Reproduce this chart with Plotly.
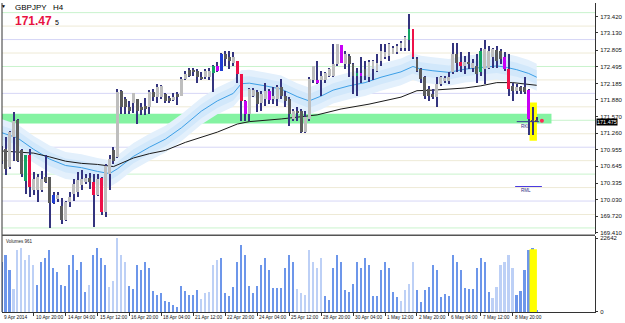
import plotly.graph_objects as go

W, H = 625, 323
ML, MR, MT, MB = 2, 23, 2, 11
PW, PH = W - ML - MR, H - MT - MB


def px(x):
    return (x - ML) / PW


def py(y):
    return (H - MB - y) / PH


# ---------------- data (H4 bars, GBPJPY) ----------------
bar_idx = list(range(135))
opens = [170.94, 170.97, 170.63, 171.19, 171.51, 170.94, 170.38, 170.85, 170.20, 170.20,
         170.20, 170.45, 170.45, 169.96, 170.03, 169.90, 169.64, 169.98, 170.14, 170.17,
         170.29, 170.35, 170.43, 170.35, 170.11, 170.43, 169.80, 170.51, 170.95, 170.82,
         172.05, 171.90, 171.75, 171.82, 171.90, 171.74, 171.71, 171.74, 172.02, 171.93,
         171.93, 171.99, 171.91, 171.88, 171.99, 171.96, 172.27, 172.43, 172.43, 172.41,
         172.30, 172.30, 172.30, 172.38, 172.42, 172.42, 172.73, 172.68, 172.57, 172.61,
         172.36, 171.86, 171.62, 171.96, 172.02, 171.82, 171.90, 172.05, 171.90, 171.90,
         172.12, 171.96, 171.90, 171.53, 171.68, 171.68, 171.28, 171.53, 172.24, 172.25,
         172.24, 172.24, 172.33, 172.33, 172.54, 172.89, 172.54, 172.70, 172.54, 172.34,
         172.37, 172.45, 172.30, 172.45, 172.42, 172.61, 172.67, 172.70, 172.73, 172.76,
         172.85, 172.85, 173.00, 173.19, 172.64, 172.45, 172.30, 172.08, 171.99, 171.93,
         172.17, 172.23, 172.23, 172.39, 172.73, 172.59, 172.51, 172.59, 172.48, 172.51,
         172.39, 172.45, 172.48, 172.67, 172.80, 172.79, 172.68, 172.45, 172.14, 172.04,
         172.12, 172.12, 172.06, 171.51, 171.51]
highs = [171.03, 171.19, 171.31, 171.65, 171.53, 170.97, 170.86, 170.97, 170.54, 170.51,
         170.55, 170.85, 170.45, 170.17, 170.17, 170.06, 170.01, 170.17, 170.41, 170.54,
         170.57, 170.51, 170.52, 170.51, 170.51, 170.45, 170.69, 170.86, 171.01, 172.08,
         172.06, 171.94, 171.86, 172.00, 171.90, 171.83, 171.91, 172.06, 172.08, 172.17,
         172.16, 172.00, 171.96, 172.00, 172.02, 172.30, 172.42, 172.47, 172.47, 172.45,
         172.39, 172.45, 172.47, 172.53, 172.58, 172.75, 172.79, 172.79, 172.76, 172.61,
         172.36, 171.88, 172.10, 172.10, 172.06, 172.05, 172.20, 172.08, 172.11, 172.16,
         172.27, 172.05, 171.94, 171.71, 171.74, 171.71, 171.68, 172.30, 172.51, 172.61,
         172.42, 172.39, 172.47, 172.91, 172.92, 172.90, 172.79, 172.74, 172.57, 172.48,
         172.67, 172.61, 172.62, 172.62, 172.73, 172.91, 172.91, 172.94, 172.88, 172.91,
         172.97, 173.07, 173.48, 173.19, 172.67, 172.48, 172.33, 172.14, 172.08, 172.30,
         172.33, 172.33, 172.39, 172.93, 172.93, 172.76, 172.70, 172.76, 172.64, 172.73,
         172.85, 172.99, 172.88, 172.85, 172.88, 172.82, 172.76, 172.73, 172.20, 172.17,
         172.14, 172.30, 172.08, 171.74, 171.56]
lows = [170.69, 170.48, 170.60, 170.75, 170.72, 170.45, 170.14, 170.07, 170.11, 169.98,
        170.17, 170.34, 169.49, 169.95, 169.98, 169.58, 169.63, 169.89, 170.01, 170.07,
        170.20, 170.32, 170.23, 169.51, 170.10, 169.75, 169.70, 170.20, 170.69, 170.80,
        171.62, 171.61, 171.62, 171.63, 171.44, 171.59, 171.59, 171.61, 171.86, 171.83,
        171.90, 171.82, 171.83, 171.85, 171.79, 171.95, 172.24, 172.30, 172.33, 172.20,
        172.24, 172.27, 172.25, 172.02, 172.40, 172.41, 172.51, 172.45, 172.51, 172.20,
        171.49, 171.49, 171.49, 171.94, 171.65, 171.68, 171.77, 171.80, 171.80, 171.77,
        171.90, 171.74, 171.40, 171.49, 171.49, 171.26, 171.26, 171.49, 172.20, 172.17,
        171.96, 172.20, 172.30, 172.30, 172.51, 172.57, 172.45, 172.30, 171.99, 171.96,
        172.20, 172.24, 172.22, 172.24, 172.39, 172.51, 172.64, 172.60, 172.73, 172.73,
        172.79, 172.79, 172.79, 172.64, 172.39, 172.20, 171.90, 171.86, 171.90, 171.75,
        172.14, 172.19, 172.17, 172.36, 172.39, 172.39, 172.36, 172.45, 172.39, 172.20,
        172.33, 172.17, 172.45, 172.48, 172.48, 172.54, 172.42, 171.96, 171.86, 171.99,
        171.99, 171.99, 171.22, 171.22, 171.46]
closes = [170.75, 170.60, 171.28, 171.49, 170.75, 170.51, 170.86, 170.27, 170.41, 170.45,
          170.41, 170.35, 169.96, 170.12, 170.12, 169.64, 169.98, 170.07, 170.32, 170.40,
          170.41, 170.43, 170.35, 170.11, 170.41, 169.80, 170.66, 170.78, 170.75, 172.02,
          171.74, 171.74, 171.68, 172.00, 171.68, 171.69, 171.77, 172.02, 171.93, 172.11,
          172.14, 171.86, 171.86, 171.93, 171.93, 172.27, 172.36, 172.33, 172.39, 172.30,
          172.27, 172.41, 172.42, 172.51, 172.51, 172.73, 172.64, 172.61, 172.67, 172.36,
          171.86, 171.62, 172.08, 172.06, 171.80, 171.99, 172.05, 171.88, 171.96, 172.12,
          171.96, 171.86, 171.62, 171.68, 171.65, 171.28, 171.56, 172.27, 172.51, 172.20,
          172.33, 172.37, 172.45, 172.54, 172.91, 172.57, 172.73, 172.54, 172.33, 172.37,
          172.34, 172.33, 172.58, 172.60, 172.57, 172.79, 172.76, 172.91, 172.85, 172.88,
          172.94, 173.04, 173.19, 172.67, 172.42, 172.27, 171.96, 171.96, 171.93, 172.17,
          172.30, 172.28, 172.31, 172.73, 172.57, 172.51, 172.59, 172.54, 172.57, 172.36,
          172.79, 172.82, 172.79, 172.82, 172.61, 172.64, 172.45, 172.08, 172.05, 172.12,
          172.04, 172.02, 171.53, 171.46, 171.475]
# body colour class per bar: l=bull grey, d=bear grey, r=red, m=magenta, g=green, b=blue
kinds = list("ddllddgrll" "lddbldllll" "lldrlrlldl" "dddldddldl" "lddldllddd"
             "dllgmbddlr" "rmlldllmll" "dddlddlllm" "lllllmlddg" "mdllllllll"
             "llgrdddddl" "lllldrldld" "glllddmrdl" "ddmdd")

volumes = [15330, 17480, 12880, 7050, 19010, 19620, 15940, 17480, 14410, 8280,
           15330, 16560, 19010, 13490, 12260, 8280, 7970, 14410, 17480, 12880,
           15330, 6130, 8280, 17480, 19620, 16560, 14410, 7660, 9500, 22642,
           17480, 15330, 7970, 7050, 14410, 12880, 15330, 13490, 6440, 5210,
           5830, 3370, 3070, 2150, 1530, 7970, 6440, 5210, 5210, 6750,
           3990, 5830, 6130, 14410, 15940, 16560, 5830, 4910, 7660, 15330,
           20540, 17480, 7970, 5830, 7970, 14410, 16560, 12880, 7360, 7360,
           7360, 13490, 17480, 15330, 7050, 5830, 5210, 19010, 15330, 13490,
           16560, 4910, 3680, 13490, 17480, 15330, 6750, 6130, 8580, 15330,
           13490, 16560, 14410, 4910, 4910, 12880, 15330, 13490, 6130, 4600,
           3370, 6750, 8580, 15330, 6750, 3070, 6750, 7660, 14410, 12880,
           4600, 5520, 4910, 17480, 15330, 12880, 7360, 7050, 7050, 13490,
           16560, 15330, 6130, 4290, 7660, 14410, 15330, 17480, 13490, 5210,
           6440, 12880, 19010, 19620, 610]
vol_shade = list("DDDLLLLLLD" "DDDDDDDDDD" "DDLDDDDLLL" "LLDDDDDDDD"
                 "DDDDDDDDDD" "LLLLLDDDDD" "DDDDDDDDDD" "DDDDLLLLLL"
                 "LDDDDDDDDD" "DDDDDDDDDD" "LLLLDDDDDD" "DDDDDDDDDD"
                 "DDDLLLLLLD" "DDDDD")

# moving averages read at sample bars
ma_x = [0, 4, 8, 12, 16, 20, 24, 27, 29, 33, 37, 41, 45, 50, 54, 58, 60, 62, 66, 70,
        74, 77, 80, 83, 87, 91, 95, 100, 103, 105, 108, 112, 116, 120, 124, 126, 129, 132, 134]
ma_fast = [171.27, 171.17, 170.96, 170.78, 170.66, 170.62, 170.55, 170.51, 170.60, 170.83,
           171.00, 171.15, 171.36, 171.67, 171.86, 172.00, 172.18, 172.19, 172.14, 172.08,
           171.94, 171.86, 171.95, 172.06, 172.14, 172.20, 172.30, 172.40, 172.50, 172.45,
           172.42, 172.39, 172.45, 172.48, 172.51, 172.49, 172.44, 172.37, 172.30]
slow_x = [0, 4, 8, 12, 16, 20, 24, 28, 33, 37, 41, 46, 54, 59, 62, 70, 79, 85, 92, 100,
          104, 108, 116, 120, 124, 128, 134]
ma_slow = [170.93, 170.91, 170.89, 170.82, 170.74, 170.70, 170.68, 170.64, 170.80, 170.88,
           170.94, 171.09, 171.28, 171.43, 171.475, 171.525, 171.60, 171.71, 171.80, 171.93,
           172.05, 172.06, 172.10, 172.14, 172.20, 172.20, 172.15]
BAND_OUT = 0.25
BAND_IN = 0.13

murrey_levels = [173.5, 173.25, 173.0, 172.75, 172.5, 172.25, 172.0, 171.75, 171.5,
                 171.25, 171.0, 170.75, 170.5, 170.25, 170.0, 169.75, 169.5]
price_ticks = [173.420, 173.130, 172.805, 172.495, 172.185, 171.880, 171.570, 171.260,
               170.955, 170.645, 170.335, 170.030, 169.720, 169.410]
date_bars = [0, 8, 16, 24, 32, 40, 48, 56, 64, 72, 80, 88, 96, 104, 112, 120, 128]
date_labels = ["9 Apr 2014", "10 Apr 20:00", "14 Apr 04:00", "15 Apr 12:00", "16 Apr 20:00",
               "18 Apr 04:00", "21 Apr 12:00", "22 Apr 20:00", "24 Apr 04:00", "25 Apr 12:00",
               "28 Apr 20:00", "30 Apr 04:00", "1 May 12:00", "2 May 20:00", "6 May 04:00",
               "7 May 12:00", "8 May 20:00"]
zone_low, zone_high = 171.44, 171.62
last_price = 171.475
vol_max = 22642

BODY_COLORS = {'l': '#bebebe', 'd': '#5c5c5c', 'r': '#ee1148', 'm': '#c800f5',
               'g': '#14a466', 'b': '#1e3cd2'}
WICK = '#34347e'
FONT = "Liberation Sans"
X_RANGE = [0.07, 148.6]
Y_RANGE = [169.383, 173.679]

fig = go.Figure()

# envelope band and averages (base axis, beneath candles)
fig.add_trace(go.Scatter(
    x=ma_x + ma_x[::-1],
    y=[v + BAND_OUT for v in ma_fast] + [v - BAND_OUT for v in ma_fast[::-1]],
    fill='toself', fillcolor='#e3f0fc', line=dict(width=0), mode='lines',
    hoverinfo='skip', xaxis='x', yaxis='y'))
fig.add_trace(go.Scatter(
    x=ma_x + ma_x[::-1],
    y=[v + BAND_IN for v in ma_fast] + [v - BAND_IN for v in ma_fast[::-1]],
    fill='toself', fillcolor='#d2e8fb', line=dict(width=0), mode='lines',
    hoverinfo='skip', xaxis='x', yaxis='y'))
fig.add_trace(go.Scatter(x=ma_x, y=ma_fast, mode='lines', line=dict(color='#3c9fe6', width=1),
                         xaxis='x', yaxis='y'))
fig.add_trace(go.Scatter(x=slow_x, y=ma_slow, mode='lines', line=dict(color='#1a1a1a', width=1),
                         xaxis='x', yaxis='y'))

# wicks
fig.add_trace(go.Bar(x=bar_idx, y=[h - l for h, l in zip(highs, lows)], base=lows,
                     width=0.26, marker=dict(color=WICK, line=dict(width=0)),
                     xaxis='x', yaxis='y3'))
# bodies
for k, col in BODY_COLORS.items():
    sel = [i for i in bar_idx if kinds[i] == k]
    if not sel:
        continue
    fig.add_trace(go.Bar(
        x=sel,
        y=[max(abs(closes[i] - opens[i]), 0.02) for i in sel],
        base=[min(opens[i], closes[i]) for i in sel],
        width=0.72, marker=dict(color=col, line=dict(width=0)),
        xaxis='x', yaxis='y3'))

# level markers near the last bar
fig.add_trace(go.Scatter(x=[129, 134.6], y=[last_price, last_price], mode='lines',
                         line=dict(color='#3a3a90', width=1), xaxis='x', yaxis='y3'))
fig.add_trace(go.Scatter(x=[128.6, 135.3], y=[170.27, 170.27], mode='lines',
                         line=dict(color='#4a3ae0', width=1), xaxis='x', yaxis='y3'))
fig.add_trace(go.Scatter(x=[135.3], y=[171.49], mode='markers',
                         marker=dict(color='#ff2a55', size=4, symbol='circle'),
                         xaxis='x', yaxis='y3'))

# volumes
for shade, col in (('D', '#6d96ea'), ('L', '#bdd0f6')):
    sel = [i for i in bar_idx if vol_shade[i] == shade]
    fig.add_trace(go.Bar(x=sel, y=[volumes[i] for i in sel], width=0.4,
                         marker=dict(color=col, line=dict(width=0)),
                         xaxis='x', yaxis='y2'))

shapes = []
lvl_col = {0: '#d6d6f6', 1: '#eeead6', 2: '#c9f3cd', 3: '#eeead6'}
for lv in murrey_levels:
    q = int(round((lv % 1) / 0.25)) % 4
    shapes.append(dict(type='line', xref='paper', yref='y', x0=0, x1=1, y0=lv, y1=lv,
                       line=dict(color=lvl_col[q], width=1), layer='below'))
shapes.append(dict(type='rect', xref='x', yref='y', x0=-1, x1=137.7, y0=zone_low, y1=zone_high,
                   fillcolor='#84f3a2', line=dict(width=0), layer='below'))
shapes.append(dict(type='rect', xref='x', yref='y', x0=132.2, x1=134.05, y0=171.12, y1=171.83,
                   fillcolor='#ffff00', line=dict(width=0), layer='below'))
shapes.append(dict(type='rect', xref='x', yref='y2', x0=132.2, x1=134.05, y0=0, y1=19300,
                   fillcolor='#ffff00', line=dict(width=0), layer='above'))
# frame: left edge and pane separator
shapes.append(dict(type='line', xref='paper', yref='paper', x0=0, x1=0, y0=0, y1=1,
                   line=dict(color='#333333', width=1)))
shapes.append(dict(type='line', xref='paper', yref='paper', x0=0, x1=1, y0=py(235), y1=py(235),
                   line=dict(color='#555555', width=1.5)))

ann = []
for b, t in zip(date_bars, date_labels):
    ann.append(dict(x=max(b, X_RANGE[0]), y=0, xref='x', yref='paper', text=t, showarrow=False,
                    xanchor='left', yanchor='top', xshift=0, yshift=-1,
                    font=dict(family=FONT, size=4.8, color='#111111')))
ann.append(dict(x=px(4), y=py(5), xref='paper', yref='paper', text='▼', showarrow=False,
                xanchor='center', yanchor='middle', font=dict(family=FONT, size=5, color='#000')))
ann.append(dict(x=px(13), y=py(6.5), xref='paper', yref='paper', text='GBPJPY   H4',
                showarrow=False, xanchor='left', yanchor='middle',
                font=dict(family=FONT, size=8, color='#000')))
ann.append(dict(x=px(13), y=py(20), xref='paper', yref='paper', text='<b>171.47</b>',
                showarrow=False, xanchor='left', yanchor='middle',
                font=dict(family=FONT, size=12, color='#e8123f')))
ann.append(dict(x=px(54), y=py(21.5), xref='paper', yref='paper', text='5',
                showarrow=False, xanchor='left', yanchor='middle',
                font=dict(family=FONT, size=7, color='#000')))
ann.append(dict(x=px(4), y=py(241), xref='paper', yref='paper', text='Volumes 961',
                showarrow=False, xanchor='left', yanchor='middle',
                font=dict(family=FONT, size=4.5, color='#222')))
ann.append(dict(x=129.5, y=py(125.5), xref='x', yref='paper', text='RKL', showarrow=False,
                xanchor='left', yanchor='middle', font=dict(family=FONT, size=4.5, color='#2a2a80')))
ann.append(dict(x=129.5, y=py(190), xref='x', yref='paper', text='RML', showarrow=False,
                xanchor='left', yanchor='middle', font=dict(family=FONT, size=4.5, color='#2a2a80')))
ann.append(dict(x=1, y=last_price, xref='paper', yref='y', text='171.475', showarrow=False,
                xanchor='left', yanchor='middle', xshift=1, bgcolor='#000000', borderpad=0,
                font=dict(family=FONT, size=5.5, color='#ffffff')))

main_dom = [py(234), 1]
vol_dom = [0, py(236)]

fig.update_layout(
    width=W, height=H, margin=dict(l=ML, r=MR, t=MT, b=MB),
    paper_bgcolor='white', plot_bgcolor='white', showlegend=False,
    barmode='overlay', bargap=0, hovermode=False,
    shapes=shapes, annotations=ann,
    xaxis=dict(domain=[0, 1], range=X_RANGE, anchor='y2', showgrid=False,
               zeroline=False, showline=True, linecolor='#333333', linewidth=1,
               ticks='outside', ticklen=3, tickcolor='#333333', tickvals=date_bars,
               showticklabels=False, fixedrange=True),
    yaxis=dict(domain=main_dom, range=Y_RANGE, side='right', anchor='x', showgrid=False,
               zeroline=False, showline=True, linecolor='#333333', linewidth=1,
               ticks='outside', ticklen=2, tickcolor='#333333', tickvals=price_ticks,
               ticktext=[f"{v:.3f}" for v in price_ticks],
               tickfont=dict(family=FONT, size=6, color='#111111'), ticklabelstandoff=1),
    yaxis3=dict(overlaying='y', matches='y', range=Y_RANGE, visible=False, side='right'),
    yaxis2=dict(domain=vol_dom, range=[0, 23300], side='right', anchor='x', showgrid=False,
                zeroline=False, showline=True, linecolor='#333333', linewidth=1,
                ticks='outside', ticklen=2, tickcolor='#333333', tickvals=[0, vol_max],
                ticktext=['0', str(vol_max)],
                tickfont=dict(family=FONT, size=6, color='#111111'), ticklabelstandoff=1),
)

fig.write_html("out.html")
